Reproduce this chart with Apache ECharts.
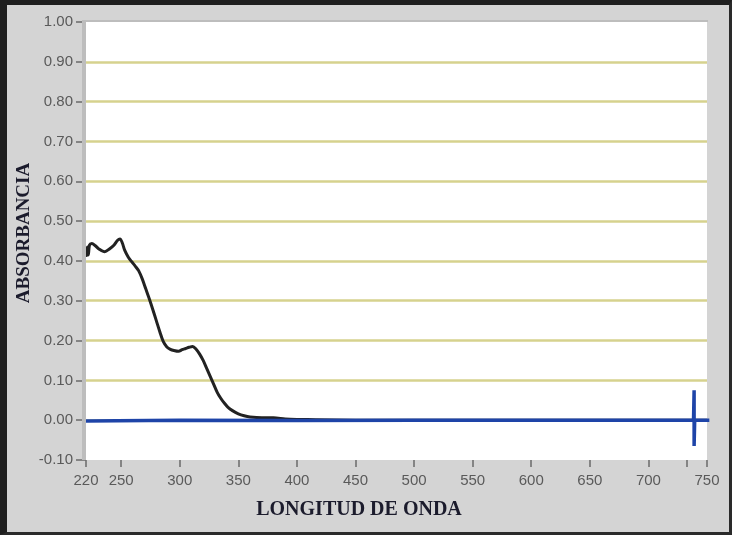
<!DOCTYPE html>
<html>
<head>
<meta charset="utf-8">
<script src="https://cdn.jsdelivr.net/npm/echarts@6/dist/echarts.min.js"></script>
<style>
  html, body { margin: 0; padding: 0; background: #d4d4d4; }
  #frame {
    width: 732px; height: 535px; box-sizing: border-box;
    border-top: 5px solid #1f1f1f; border-left: 7px solid #1f1f1f;
    border-bottom: 3px solid #2a2a2a; border-right: 3px solid #2a2a2a;
    background: #d4d4d4;
  }
  #chart { width: 722px; height: 527px; }
</style>
</head>
<body>
<div id="frame"><div id="chart"></div></div>
<script>
// sample spectrum (black)
const wavelength = [220, 221, 222, 223, 225, 228, 231, 236, 240, 244, 247, 249, 251, 253, 256, 259, 262, 265, 268, 271,
  274, 277, 280, 283, 286, 289, 292, 295, 299, 302, 305, 308, 311, 314, 317, 320, 323, 326, 329, 332,
  335, 338, 341, 345, 350, 355, 360, 370, 380, 390, 400, 450, 500, 550, 600, 650, 700, 750];
const absorbance = [0.41, 0.435, 0.415, 0.44, 0.444, 0.438, 0.43, 0.423, 0.43, 0.44, 0.452, 0.455, 0.445, 0.427, 0.41, 0.398, 0.387, 0.375, 0.355, 0.33,
  0.305, 0.278, 0.25, 0.222, 0.197, 0.184, 0.178, 0.175, 0.173, 0.177, 0.18, 0.183, 0.185, 0.178, 0.166, 0.15, 0.13, 0.11, 0.09, 0.07,
  0.055, 0.043, 0.033, 0.024, 0.016, 0.011, 0.008, 0.006, 0.006, 0.003, 0.002, 0, 0, 0, 0, 0, 0, 0];

// baseline (blue) with the spike near 739 nm
const baseX = [220, 300, 400, 500, 600, 700, 738.5, 739, 739, 739.5, 752];
const baseY = [-0.002, 0, -0.001, 0, 0, 0, 0, 0.075, -0.065, 0, 0];

const xTicks = [220, 250, 300, 350, 400, 450, 500, 550, 600, 650, 700, 750];
const xExtraTicks = [733];

const chart = echarts.init(document.getElementById('chart'));
const zip = (xs, ys) => xs.map((x, i) => [x, ys[i]]);
const tickFont = 'Liberation Sans, Arial, sans-serif';
const titleFont = 'Liberation Serif, Times New Roman, serif';

chart.setOption({
  animation: false,
  backgroundColor: '#d4d4d4',
  grid: {
    left: 79, right: 22, top: 17, bottom: 72,
    outerBoundsMode: 'none', containLabel: false,
    show: true, backgroundColor: '#ffffff', borderWidth: 0
  },
  // inset border on the left and top of the plot
  graphic: [
    { type: 'rect', z: 100, shape: { x: 75, y: 15, width: 4, height: 440 }, style: { fill: '#bdbdbd' } },
    { type: 'rect', z: 100, shape: { x: 75, y: 15, width: 626, height: 2 }, style: { fill: '#bdbdbd' } }
  ],
  xAxis: {
    type: 'value', min: 220, max: 750,
    name: 'LONGITUD DE ONDA', nameLocation: 'middle', nameGap: 40, nameMoveOverlap: false,
    nameTextStyle: {
      fontFamily: titleFont, fontWeight: 'bold', fontSize: 20, color: '#1b1b2c',
      padding: [0, 75, 0, 0]
    },
    axisLine: { show: false, onZero: false },
    axisTick: { show: true, length: 7, lineStyle: { color: '#6a6a6a', width: 1.5 },
      customValues: xTicks.concat(xExtraTicks) },
    axisLabel: { customValues: xTicks, color: '#5a5a5a', fontSize: 15, margin: 13, fontFamily: tickFont },
    splitLine: { show: false }
  },
  yAxis: {
    type: 'value', min: -0.1, max: 1.0, interval: 0.1,
    name: 'ABSORBANCIA', nameLocation: 'middle', nameGap: 52, nameRotate: 90, nameMoveOverlap: false,
    nameTextStyle: { fontFamily: titleFont, fontWeight: 'bold', fontSize: 19, color: '#1b1b2c',
      padding: [0, 0, 0, 16] },
    axisLine: { show: false },
    axisTick: { show: true, length: 10, lineStyle: { color: '#6a6a6a', width: 1.5 } },
    axisLabel: { formatter: v => v.toFixed(2), color: '#5a5a5a', fontSize: 15, margin: 13, fontFamily: tickFont },
    splitLine: { show: true, showMinLine: false, showMaxLine: false,
      lineStyle: { color: '#d6d28e', width: 2.5 } }
  },
  series: [
    {
      type: 'line', data: zip(wavelength, absorbance), showSymbol: false, smooth: 0.3,
      lineStyle: { color: '#222222', width: 3 }, z: 2
    },
    {
      type: 'line', data: zip(baseX, baseY), showSymbol: false,
      lineStyle: { color: '#1e44a8', width: 3.5 }, z: 3
    }
  ]
});
</script>
</body>
</html>
